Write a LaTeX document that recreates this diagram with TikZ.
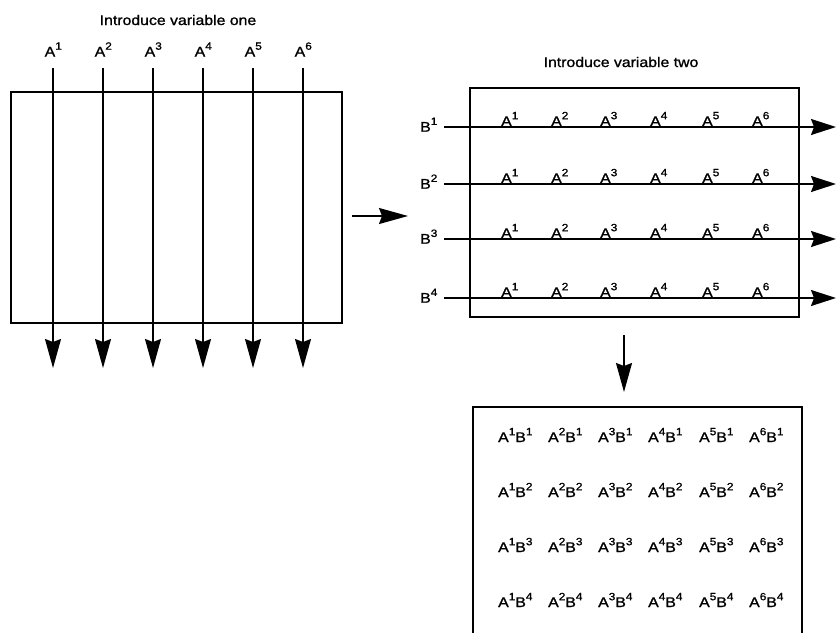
\documentclass[tikz,border=0pt]{standalone}
\usepackage{fontspec}
\setmainfont{Liberation Sans}[FakeStretch=1.13, FakeBold=1.2]
\usetikzlibrary{arrows.meta}
% raised index digit
\newcommand\pw[1]{\raisebox{6.8pt}{\fontsize{10.5}{10.5}\selectfont #1}}
\begin{document}
\begin{tikzpicture}[x=1pt,y=-1pt,
  lbl/.style={font=\fontsize{14}{16}\selectfont, inner sep=0pt},
  frame/.style={draw, line width=1.4pt},
  flow/.style={line width=1.5pt, -{Stealth[length=29pt,width=16pt,inset=3pt]}},
  hflow/.style={line width=1.5pt, -{Stealth[length=25pt,width=16pt,inset=3pt]}}]
\useasboundingbox (0,0) rectangle (837,632);

% first variable
\node[lbl, anchor=base] (t1) at (178,25) {Introduce variable one};
\draw[frame] (11,92) rectangle (342,323);
\foreach \i/\x in {1/53,2/103,3/153,4/203,5/253,6/303}{
  \node[lbl, anchor=base west] (a\i) at (\x-8.5,56.5) {A\pw{\i}};
  \coordinate (as\i) at (\x,68);
  \coordinate (ae\i) at (\x,368);
  \draw[flow] (as\i) -- (ae\i);
}

% transition
\coordinate (m1) at (352,216);
\coordinate (m2) at (408,216);
\draw[flow] (m1) -- (m2);

% second variable
\node[lbl, anchor=base] (t2) at (621,67) {Introduce variable two};
\draw[frame] (470,88) rectangle (799,317);
\foreach \j/\y in {1/127,2/184,3/239,4/298}{
  \node[lbl, anchor=base west] (b\j) at (420,\y+4.7) {B\pw{\j}};
  \coordinate (bs\j) at (444,\y);
  \coordinate (be\j) at (836,\y);
  \draw[hflow] (bs\j) -- (be\j);
  \foreach \i/\x in {1/501,2/551,3/600,4/650,5/702,6/752}{
    \node[lbl, anchor=base west] (r\j-\i) at (\x,\y-1) {A\pw{\i}};
  }
}

% combined conditions
\coordinate (d1) at (624,335);
\coordinate (d2) at (624,392);
\draw[flow] (d1) -- (d2);
\draw[frame] (473,640) -- (473,407) -- (802,407) -- (802,640);
\foreach \j/\y in {1/442,2/497,3/552,4/607}{
  \foreach \i/\x in {1/498,2/548,3/598,4/648,5/699,6/749}{
    \node[lbl, anchor=base west] (c\j-\i) at (\x,\y) {A\pw{\i}B\pw{\j}};
  }
}
\end{tikzpicture}
\end{document}
